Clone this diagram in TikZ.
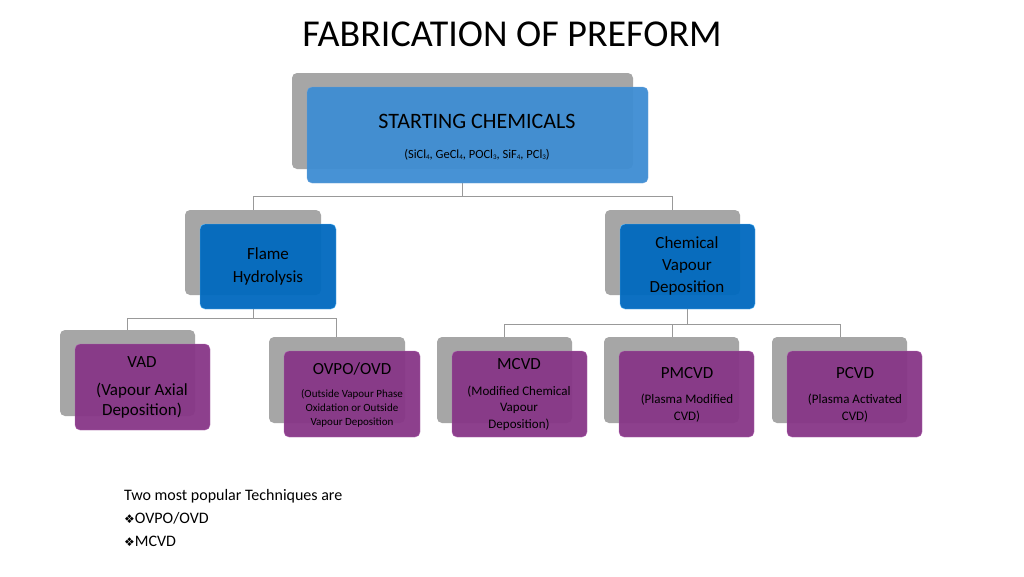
\documentclass[tikz,border=0pt]{standalone}
\usepackage{fontspec}
\setmainfont{Carlito}
\newfontfamily\symfont{DejaVu Sans}
\begin{document}
\begin{tikzpicture}[x=1pt,y=-1pt,
  back/.style={fill=black!35,rounded corners=5pt},
  front/.style={rounded corners=5pt,opacity=0.95},
  cyanbox/.style={front,fill=cyan!60!blue!80!white,draw=cyan!60!blue!60!white},
  bluebox/.style={front,fill=blue!45!cyan!75!black,draw=blue!40!cyan!60},
  purpbox/.style={front,fill=violet!75!white!85!black,draw=violet!60!white},
  conn/.style={draw=black!40,line width=0.8pt},
  lbl/.style={align=center,inner sep=0pt}]
\useasboundingbox (0,0) rectangle (1024,576);
\fill[white] (0,0) rectangle (1024,576);
\node[lbl,font=\fontsize{38}{40}\selectfont] (title) at (512,34) {FABRICATION OF PREFORM};
% connectors
\coordinate (s0) at (462,183); \coordinate (s1) at (462,196);
\coordinate (sl) at (253,196); \coordinate (sr) at (672,196);
\draw[conn] (s0) -- (s1) (sl) -- (sr) (sl) -- (253,210) (sr) -- (672,210);
\draw[conn] (253,309) -- (253,318) (127,318) -- (336,318) (127,318) -- (127,330) (336,318) -- (336,337);
\draw[conn] (687,309) -- (687,324) (504,324) -- (840,324) (504,324) -- (504,337) (672,324) -- (672,337) (840,324) -- (840,337);
% boxes
\newcommand\bx[6]{\fill[back] (#1-15,#2-14) rectangle (#3-15,#4-14);
  \draw[#5] (#1,#2) rectangle (#3,#4);}
\bx{307}{87}{648}{183}{cyanbox}{}
\bx{200}{224}{336}{309}{bluebox}{}
\bx{620}{224}{755}{309}{bluebox}{}
\bx{75}{344}{210}{430}{purpbox}{}
\bx{284}{351}{420}{437}{purpbox}{}
\bx{452}{351}{587}{437}{purpbox}{}
\bx{619}{351}{754}{437}{purpbox}{}
\bx{787}{351}{922}{437}{purpbox}{}
% texts
\node[lbl,font=\fontsize{22}{24}\selectfont] (sc) at (477,121) {STARTING CHEMICALS};
\node[lbl,font=\fontsize{12.5}{14}\selectfont] (scs) at (477,155) {(SiCl\raisebox{-1pt}{\scriptsize 4}, GeCl\raisebox{-1pt}{\scriptsize 4}, POCl\raisebox{-1pt}{\scriptsize 3}, SiF\raisebox{-1pt}{\scriptsize 4}, PCl\raisebox{-1pt}{\scriptsize 3})};
\node[lbl,font=\fontsize{17}{23}\selectfont] (fh) at (268,266) {Flame\\Hydrolysis};
\node[lbl,font=\fontsize{17}{22}\selectfont] (cvd) at (687,266) {Chemical\\Vapour\\Deposition};
\node[lbl,font=\fontsize{17}{19}\selectfont] (vad) at (142,362) {VAD};
\node[lbl,font=\fontsize{17}{20}\selectfont] (vads) at (142,401) {(Vapour Axial\\Deposition)};
\node[lbl,font=\fontsize{17}{19}\selectfont] (ov) at (352,369) {OVPO/OVD};
\node[lbl,font=\fontsize{11}{14}\selectfont] (ovs) at (352,408) {(Outside Vapour Phase\\Oxidation or Outside\\Vapour Deposition};
\node[lbl,font=\fontsize{17}{19}\selectfont] (mc) at (519,364) {MCVD};
\node[lbl,font=\fontsize{13}{16.5}\selectfont] (mcs) at (519,408) {(Modified Chemical\\Vapour\\Deposition)};
\node[lbl,font=\fontsize{17}{19}\selectfont] (pm) at (687,373) {PMCVD};
\node[lbl,font=\fontsize{13}{16.5}\selectfont] (pms) at (687,408) {(Plasma Modified\\CVD)};
\node[lbl,font=\fontsize{17}{19}\selectfont] (pc) at (855,373) {PCVD};
\node[lbl,font=\fontsize{13}{16.5}\selectfont] (pcs) at (855,408) {(Plasma Activated\\CVD)};
\node[lbl,anchor=west,align=left,font=\fontsize{16}{23}\selectfont] (pop) at (124,518)
 {Two most popular Techniques are\\{\symfont\fontsize{12}{14}\selectfont ❖}OVPO/OVD\\{\symfont\fontsize{12}{14}\selectfont ❖}MCVD};
\end{tikzpicture}
\end{document}
